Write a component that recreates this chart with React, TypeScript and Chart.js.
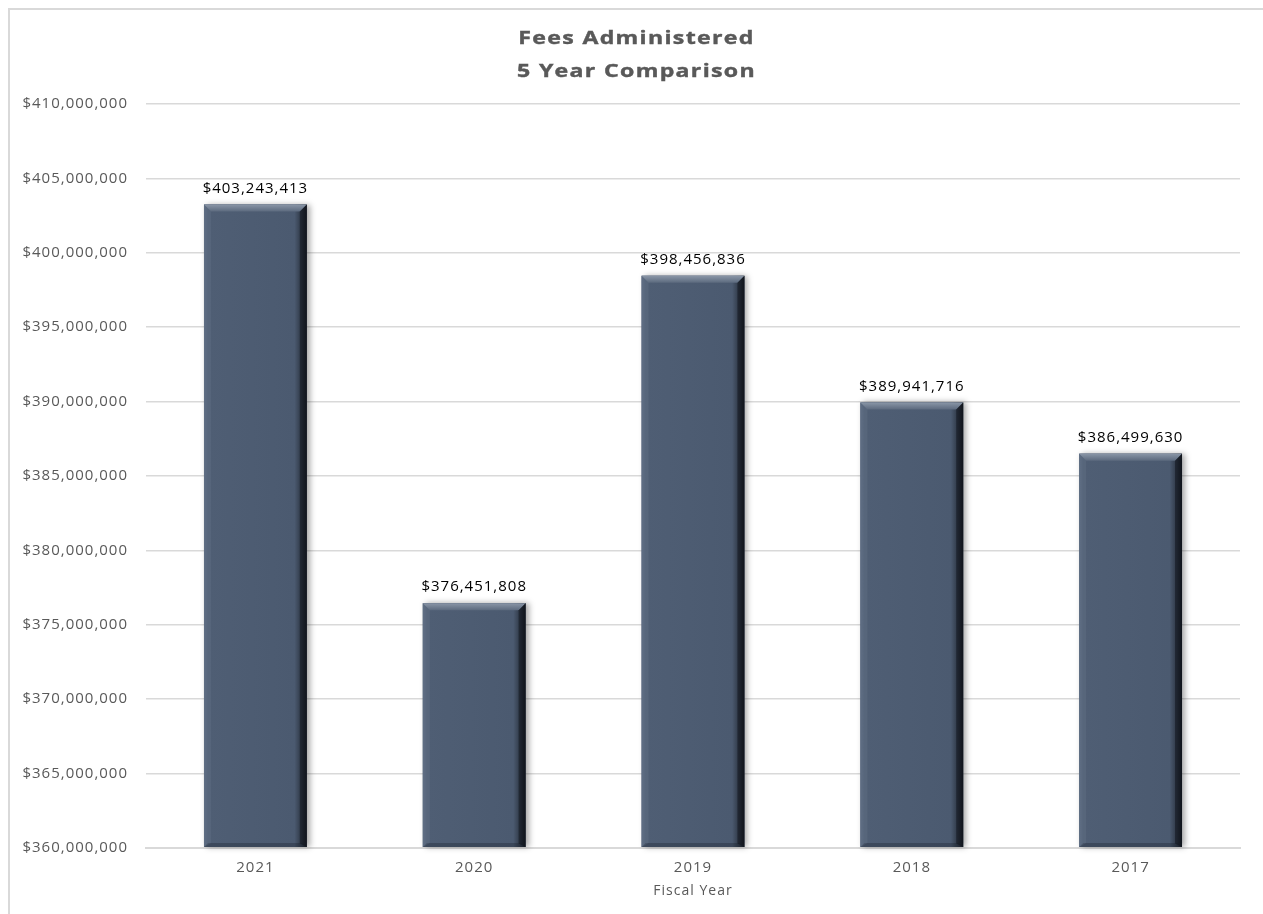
import { useEffect, useRef } from 'react';
import { Chart, registerables } from 'chart.js';

Chart.register(...registerables);

const categories = ['2021', '2020', '2019', '2018', '2017'];
const fees = [403243413, 376451808, 398456836, 389941716, 386499630];
const yMin = 360000000;
const yMax = 410000000;
const yStep = 5000000;
const titleLines = ['Fees Administered', '5 Year Comparison'];
const xAxisTitle = 'Fiscal Year';

const FONT = '"Open Sans", "Liberation Sans", sans-serif';
const money = (v: number) => '$' + Math.round(v).toLocaleString('en-US');

const SPACING = '1px';

const customPlugin = {
  id: 'custom',
  beforeLayout(chart: any) {
    chart.ctx.letterSpacing = SPACING;
  },
  beforeDraw(chart: any) {
    chart.ctx.letterSpacing = SPACING;
  },
  beforeDatasetsDraw(chart: any) {
    const ctx = chart.ctx;
    const meta = chart.getDatasetMeta(0);
    const bottom = chart.chartArea.bottom;
    ctx.save();
    meta.data.forEach((bar: any) => {
      const w = bar.width;
      const x0 = bar.x - w / 2;
      const y1 = Math.min(bar.base, bottom) - 1;
      ctx.shadowColor = 'rgba(0,0,0,0.35)';
      ctx.shadowBlur = 6;
      ctx.shadowOffsetX = 3;
      ctx.shadowOffsetY = 0;
      ctx.fillStyle = '#4b5a70';
      ctx.fillRect(x0, bar.y, w, y1 - bar.y);
    });
    ctx.restore();
  },
  afterDatasetsDraw(chart: any) {
    const ctx = chart.ctx;
    const meta = chart.getDatasetMeta(0);
    const bottom = chart.chartArea.bottom;
    ctx.save();
    meta.data.forEach((bar: any, i: number) => {
      const w = bar.width;
      const x0 = bar.x - w / 2;
      const x1 = bar.x + w / 2;
      const y0 = bar.y;
      const y1 = Math.min(bar.base, bottom) - 1;
      const b = 7;
      const g = ctx.createLinearGradient(x0, 0, x1, 0);
      g.addColorStop(0, '#5a697f');
      g.addColorStop(0.04, '#4f5e74');
      g.addColorStop(0.88, '#4b5a70');
      g.addColorStop(0.94, '#323c4b');
      g.addColorStop(1, '#161b23');
      ctx.fillStyle = g;
      ctx.fillRect(x0, y0, w, y1 - y0);
      // top bevel
      const gt = ctx.createLinearGradient(0, y0, 0, y0 + b);
      gt.addColorStop(0, '#8a96a7');
      gt.addColorStop(1, '#5c6a7e');
      ctx.fillStyle = gt;
      ctx.beginPath();
      ctx.moveTo(x0, y0);
      ctx.lineTo(x1, y0);
      ctx.lineTo(x1 - b, y0 + b);
      ctx.lineTo(x0 + b, y0 + b);
      ctx.closePath();
      ctx.fill();
      // right bevel
      ctx.fillStyle = 'rgba(10,14,20,0.45)';
      ctx.beginPath();
      ctx.moveTo(x1, y0);
      ctx.lineTo(x1, y1);
      ctx.lineTo(x1 - b, y1 - b / 2);
      ctx.lineTo(x1 - b, y0 + b);
      ctx.closePath();
      ctx.fill();
      // bottom bevel (subtle)
      const bb = 4;
      ctx.fillStyle = 'rgba(20,26,36,0.3)';
      ctx.beginPath();
      ctx.moveTo(x0, y1);
      ctx.lineTo(x1, y1);
      ctx.lineTo(x1 - bb, y1 - bb);
      ctx.lineTo(x0 + bb, y1 - bb);
      ctx.closePath();
      ctx.fill();
      // left bevel
      ctx.fillStyle = 'rgba(120,135,155,0.2)';
      ctx.beginPath();
      ctx.moveTo(x0, y0);
      ctx.lineTo(x0 + b, y0 + b);
      ctx.lineTo(x0 + b, y1 - bb);
      ctx.lineTo(x0, y1);
      ctx.closePath();
      ctx.fill();
      // data label
      ctx.letterSpacing = SPACING;
      ctx.font = `15px ${FONT}`;
      ctx.fillStyle = '#000000';
      ctx.textAlign = 'center';
      ctx.textBaseline = 'middle';
      ctx.fillText(money(fees[i]), bar.x, y0 - 16);
    });
    ctx.restore();
  },
  afterDraw(chart: any) {
    const ctx = chart.ctx;
    ctx.save();
    ctx.letterSpacing = '1px';
    ctx.font = `bold 17.5px ${FONT}`;
    ctx.fillStyle = '#595959';
    ctx.strokeStyle = '#595959';
    ctx.lineWidth = 0.4;
    ctx.textAlign = 'center';
    ctx.textBaseline = 'middle';
    const sx = 1.32;
    const cx = chart.width / 2;
    ctx.scale(sx, 1);
    ctx.fillText(titleLines[0], cx / sx, 29);
    ctx.strokeText(titleLines[0], cx / sx, 29);
    ctx.fillText(titleLines[1], cx / sx, 62);
    ctx.strokeText(titleLines[1], cx / sx, 62);
    ctx.restore();
  },
};

export default function App() {
  const ref = useRef<HTMLCanvasElement | null>(null);
  useEffect(() => {
    if (!ref.current) return;
    const chart = new Chart(ref.current, {
      type: 'bar',
      data: {
        labels: categories,
        datasets: [
          {
            label: 'Fees Administered',
            data: fees,
            backgroundColor: 'rgba(0,0,0,0)',
            borderWidth: 0,
            barPercentage: 0.47,
            categoryPercentage: 1,
          },
        ],
      },
      options: {
        animation: false,
        responsive: false,
        devicePixelRatio: 1,
        layout: { padding: { top: 94, right: 23, left: 0, bottom: 0 } },
        plugins: {
          legend: { display: false },
          title: { display: false },
          tooltip: { enabled: false },
        },
        scales: {
          x: {
            grid: { display: false, drawTicks: false },
            border: { display: true, color: '#d9d9d9', width: 2 },
            ticks: { color: '#595959', font: { family: FONT, size: 15 }, padding: 11 },
            title: {
              display: true,
              text: xAxisTitle,
              color: '#595959',
              font: { family: FONT, size: 14 },
              padding: { top: 0, bottom: 15 },
            },
            afterFit(scale: any) {
              scale.height = 66;
            },
          },
          y: {
            min: yMin,
            max: yMax,
            grid: { color: '#d9d9d9', lineWidth: 1.5, drawTicks: false },
            border: { display: false },
            ticks: {
              stepSize: yStep,
              color: '#595959',
              font: { family: FONT, size: 15 },
              padding: 18,
              callback: (v: any) => money(Number(v)),
            },
            afterFit(scale: any) {
              scale.width = 136;
            },
          },
        },
      },
      plugins: [customPlugin],
    });
    return () => chart.destroy();
  }, []);

  return (
    <div style={{ position: 'fixed', left: 0, top: 0, width: 1263, height: 914, overflow: 'hidden', background: '#fff' }}>
      <div
        style={{
          position: 'absolute',
          left: 8,
          top: 8,
          width: 1300,
          height: 950,
          border: '2px solid #d9d9d9',
          boxSizing: 'content-box',
        }}
      >
        <canvas ref={ref} width={1253} height={904} style={{ display: 'block', width: 1253, height: 904 }} />
      </div>
    </div>
  );
}
